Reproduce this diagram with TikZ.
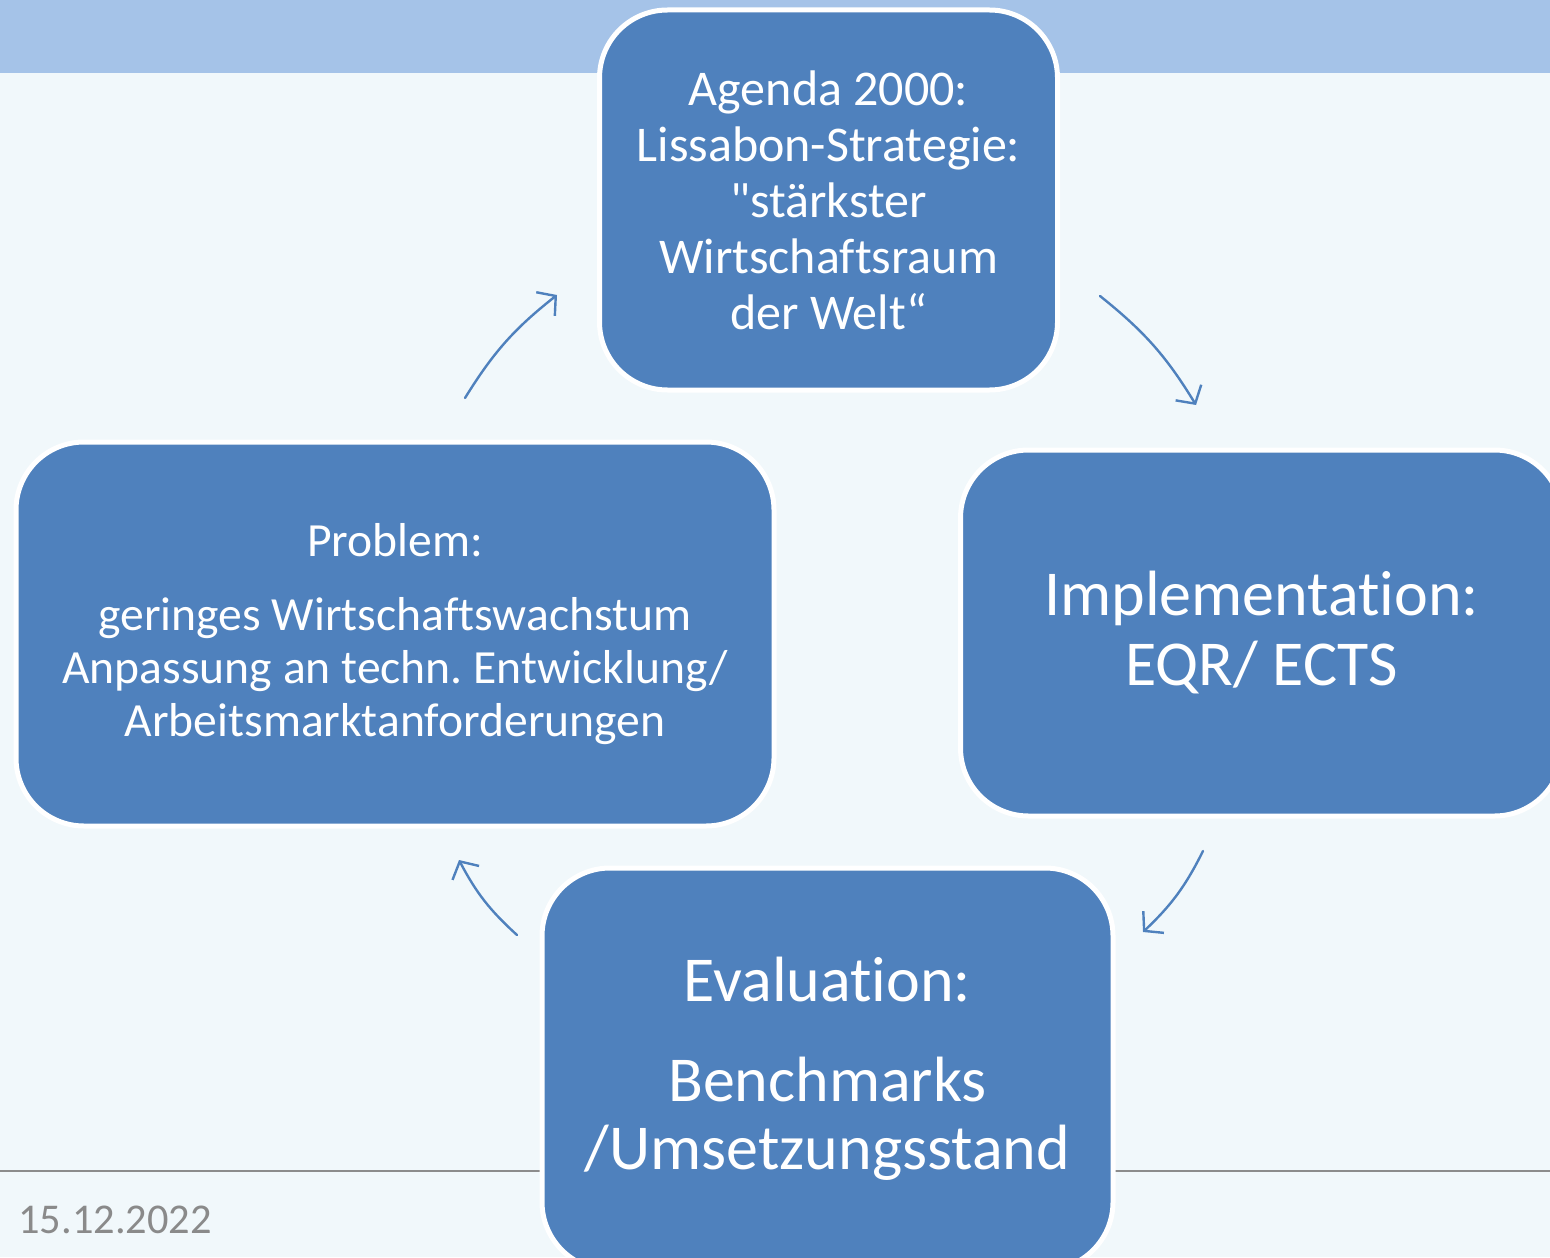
\documentclass[tikz,border=0pt]{standalone}
\usepackage{fontspec}
\setmainfont{Carlito}[Ligatures={TeXOff,CommonOff,ContextualOff}, RawFeature={-liga;-clig;-calt}]
\usetikzlibrary{arrows.meta}
\definecolor{bg}{HTML}{F1F8FB}
\definecolor{band}{HTML}{A5C3E8}
\definecolor{boxblue}{HTML}{4F81BD}
\definecolor{graytext}{HTML}{8A8A8A}
\definecolor{rule}{HTML}{8C8C8C}
\newcommand\nolig{\kern0pt}
\frenchspacing
\begin{document}
\begin{tikzpicture}[x=0.5pt,y=-0.5pt,
  box/.style={draw=white, line width=2.5pt, fill=boxblue, rounded corners=34pt,
    text=white, align=center, inner sep=0pt},
  cyc/.style={draw=boxblue, line width=1.2pt, line cap=round,
    -{Straight Barb[length=6.5pt,width=15pt,line width=1.2pt]}, bend left=10}]
\useasboundingbox (0,0) rectangle (1550,1257);
\clip (0,0) rectangle (1550,1257);
\fill[bg] (0,0) rectangle (1550,1257);
\fill[band] (0,0) rectangle (1550,73);
\coordinate (ruleL) at (0,1171);
\coordinate (ruleR) at (1550,1171);
\draw[rule, line width=0.8pt] (ruleL) -- (ruleR);
\node[anchor=base west, text=graytext, font=\fontsize{21.2}{25}\selectfont, inner sep=0pt] (date) at (18,1233) {15.12.2022};

\node[box, minimum width=229pt, minimum height=190pt, font=\fontsize{25}{28}\selectfont] (agenda) at (828.5,200)
  {Agenda 2000:\\Lissabon-Strategie:\\"stärkster\\Wirtschaftsraum\\der Welt“};
\node[box, minimum width=379pt, minimum height=192pt, font=\fontsize{23.8}{26.5}\selectfont] (problem) at (395,634)
  {Problem:\\[10.5pt]geringes Wirtschaftswachstum\\Anpassung an techn. Entwicklung/\\Arbeitsmarktanforderungen};
\node[box, minimum width=301pt, minimum height=183pt, font=\fontsize{32}{35}\selectfont] (impl) at (1261.5,633)
  {Implementat\nolig ion:\\EQR/ ECTS};
\node[box, minimum width=285.5pt, minimum height=201pt, font=\fontsize{32}{34}\selectfont] (eval) at (827.5,1069)
  {Evaluat\nolig ion:\\[16pt]Benchmarks\\/Umsetzungsstand};

\coordinate (a1s) at (465,398);
\coordinate (a1e) at (557,295);
\coordinate (a2s) at (1100,296);
\coordinate (a2e) at (1196,405);
\coordinate (a3s) at (1203,851);
\coordinate (a3e) at (1143,932);
\coordinate (a4s) at (517,935);
\coordinate (a4e) at (459,860);
\draw[cyc] (a1s) to (a1e);
\draw[cyc] (a2s) to (a2e);
\draw[cyc] (a3s) to (a3e);
\draw[cyc] (a4s) to (a4e);
\end{tikzpicture}
\end{document}
